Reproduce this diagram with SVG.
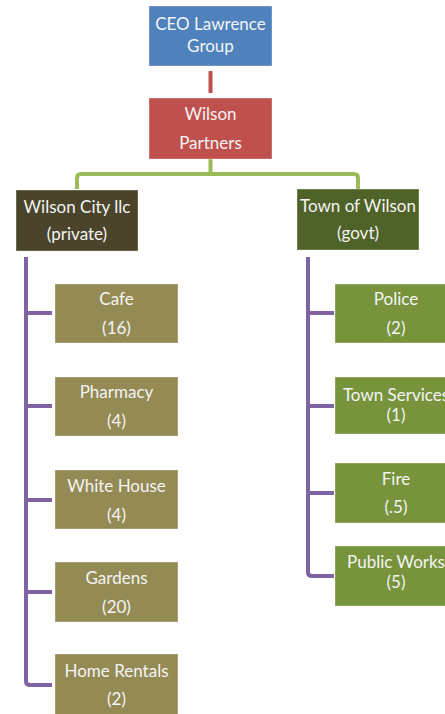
<svg xmlns="http://www.w3.org/2000/svg" width="445" height="714" viewBox="0 0 445 714">
<style>
text{font-family:Lato,"Open Sans","Liberation Sans",sans-serif;font-size:17px;fill:#F4F4F4;text-anchor:middle}
.box{stroke:#ffffff;stroke-opacity:.35;stroke-width:1}
.con{fill:none;stroke-width:4;stroke-linejoin:round;stroke-linecap:butt}
</style>
<rect width="445" height="714" fill="#ffffff"/>
<g id="connectors">
<path class="con" stroke="#C0504D" d="M210.5 71V93"/>
<path class="con" stroke="#9BBB59" d="M210.5 159V174M77 189V178Q77 174 81 174H354Q358 174 358 178V189"/>
<path class="con" stroke="#8064A2" d="M26 257V681Q26 685 30 685H52M26 313H52M26 406H52M26 500H52M26 592H52"/>
<path class="con" stroke="#8064A2" d="M308 257V572Q308 576 312 576H334M308 313H334M308 406H334M308 493H334"/>
</g>
<g id="ceo"><rect class="box" x="149" y="6" width="123" height="60" fill="#4F81BD"/><text x="210.5" y="30">CEO Lawrence</text><text x="210.5" y="52">Group</text></g>
<g id="partners"><rect class="box" x="149" y="98" width="123" height="61" fill="#C0504D"/><text x="210.5" y="120">Wilson</text><text x="210.5" y="149">Partners</text></g>
<g id="wilsoncity"><rect class="box" x="16" y="190" width="122" height="61" fill="#4A452A"/><text x="77" y="213">Wilson City llc</text><text x="77" y="240">(private)</text></g>
<g id="town"><rect class="box" x="297" y="189" width="122" height="61" fill="#4F6228"/><text x="358" y="212">Town of Wilson</text><text x="358" y="239">(govt)</text></g>
<g id="cafe"><rect class="box" x="55" y="284" width="123" height="59" fill="#948A54"/><text x="116.5" y="305">Cafe</text><text x="116.5" y="334">(16)</text></g>
<g id="pharmacy"><rect class="box" x="55" y="377" width="123" height="59" fill="#948A54"/><text x="116.5" y="398">Pharmacy</text><text x="116.5" y="427">(4)</text></g>
<g id="whitehouse"><rect class="box" x="55" y="470" width="123" height="59" fill="#948A54"/><text x="116.5" y="492">White House</text><text x="116.5" y="521">(4)</text></g>
<g id="gardens"><rect class="box" x="55" y="562" width="123" height="60" fill="#948A54"/><text x="116.5" y="584">Gardens</text><text x="116.5" y="613">(20)</text></g>
<g id="homerentals"><rect class="box" x="55" y="654" width="123" height="62" fill="#948A54"/><text x="116.5" y="677">Home Rentals</text><text x="116.5" y="705">(2)</text></g>
<g id="police"><rect class="box" x="335" y="284" width="123" height="59" fill="#77933C"/><text x="396" y="305">Police</text><text x="396" y="334">(2)</text></g>
<g id="townservices"><rect class="box" x="335" y="377" width="123" height="57" fill="#77933C"/><text x="396" y="401">Town Services</text><text x="396" y="421">(1)</text></g>
<g id="fire"><rect class="box" x="335" y="463" width="123" height="60" fill="#77933C"/><text x="396" y="485">Fire</text><text x="396" y="513">(.5)</text></g>
<g id="publicworks"><rect class="box" x="335" y="546" width="123" height="60" fill="#77933C"/><text x="396" y="568">Public Works</text><text x="396" y="588">(5)</text></g>
</svg>
